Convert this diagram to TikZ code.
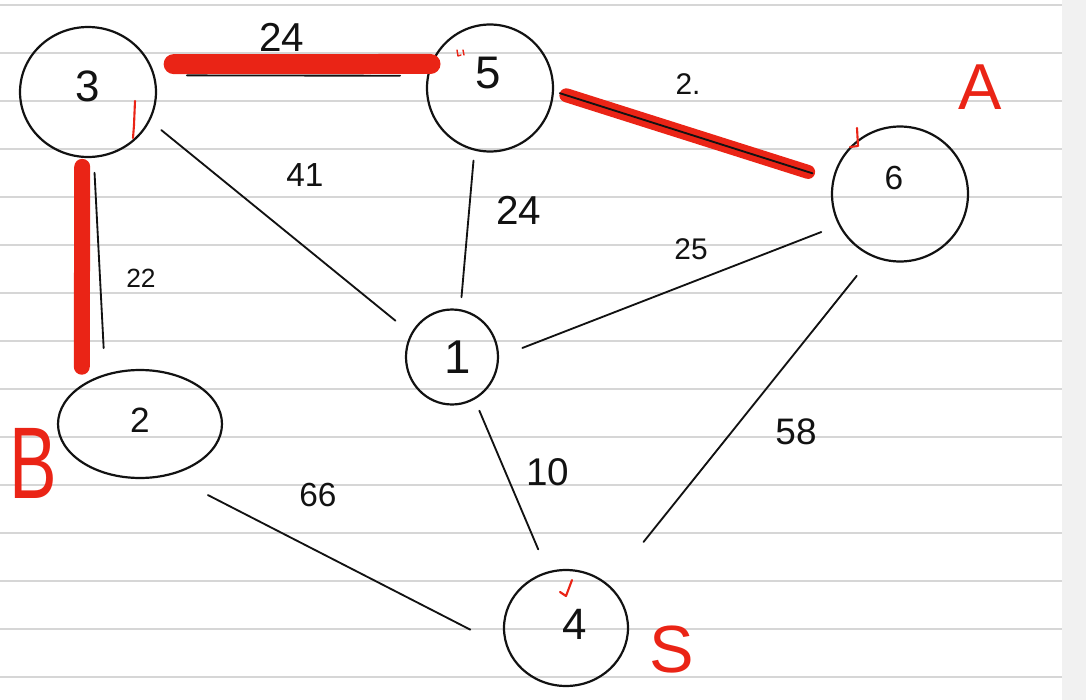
\documentclass[tikz,border=0pt]{standalone}
\usepackage{fontspec}
\setmainfont{Liberation Sans}
\usetikzlibrary{shapes.geometric,backgrounds}
\definecolor{padInk}{RGB}{18,18,18}
\definecolor{padRed}{RGB}{234,36,22}
\definecolor{padRule}{RGB}{214,214,214}
\definecolor{padEdge}{RGB}{241,241,241}
\newcommand{\padfont}[1]{\fontsize{#1}{#1}\selectfont}
\tikzset{
  vert/.style={ellipse, draw=padInk, line width=1.25pt, inner sep=0pt},
  digit/.style={text=padInk, inner sep=0pt},
  edge/.style={draw=padInk, line width=1.05pt, line cap=round},
  rule/.style={draw=padRule, line width=.8pt}
}
\begin{document}
\begin{tikzpicture}[x=.02cm, y=-.02cm,
  wt/.style={text=padInk, inner sep=.5pt},
  chosen/.style={draw=padRed, line cap=round},
  letter/.style={text=padRed, inner sep=0pt},
  tick/.style={draw=padRed, line width=1.2pt, line cap=round,
    line join=round}
]
\path[use as bounding box] (0,0) rectangle (1086,700);

\begin{scope}[on background layer]
  \fill[padEdge] (1062,0) rectangle (1086,700);
  \foreach \ry in {5,53,...,677}
    \draw[rule] (0,\ry) -- (1062,\ry);
\end{scope}

% vertices
\node[vert, minimum width=2.72cm, minimum height=2.6cm,
  label={[digit, font=\padfont{25}, yshift=.12cm]center:3}] (v3) at (88,92) {};
\node[vert, minimum width=2.52cm, minimum height=2.54cm,
  label={[digit, font=\padfont{26}, xshift=-.04cm, yshift=.3cm]center:5}] (v5) at (490,88) {};
\node[vert, minimum width=2.72cm, minimum height=2.7cm,
  label={[digit, font=\padfont{19}, xshift=-.12cm, yshift=.32cm]center:6}] (v6) at (900,194) {};
\node[vert, minimum width=1.84cm, minimum height=1.9cm,
  label={[digit, font=\padfont{27}, xshift=.12cm]center:1}] (v1) at (452,357) {};
\node[vert, minimum width=3.28cm, minimum height=2.16cm,
  label={[digit, font=\padfont{20}, yshift=.08cm]center:2}] (v2) at (140,424) {};
\node[vert, minimum width=2.48cm, minimum height=2.32cm,
  label={[digit, font=\padfont{25}, xshift=.18cm, yshift=.08cm]center:4}] (v4) at (566,628) {};

% chosen edges
\draw[chosen, line width=.4cm, shorten <=.46cm] (v3.24) -- (v5.158);
\draw[chosen, line width=.28cm, shorten <=.26cm, shorten >=.51cm] (v5.-3) -- (v6.168);
\draw[chosen, line width=.32cm, shorten <=.18cm, shorten >=.36cm] (v3.-95) -- (v2.146);

% plain edges
\draw[edge, shorten <=.64cm, shorten >=.54cm] (v3.14) -- (v5.169);
\draw[edge, shorten <=.12cm, shorten >=.42cm] (v5.-3) -- (v6.168);
\draw[edge, shorten <=.3cm, shorten >=.52cm] (v3.-85) -- (v2.125);
\draw[edge, shorten <=.29cm, shorten >=.4cm] (v3.-25) -- (v1.150);
\draw[edge, shorten <=.2cm, shorten >=.24cm] (v5.-104) -- (v1.80);
\draw[edge, shorten <=.5cm, shorten >=.37cm] (v1.0) -- (v6.207);
\draw[edge, shorten <=.24cm, shorten >=.48cm] (v1.-62) -- (v4.108);
\draw[edge, shorten <=.49cm, shorten >=1.1cm] (v6.246) -- (v4.45);
\draw[edge, shorten <=.86cm, shorten >=.82cm] (v2.-60) -- (v4.199);

% weights
\node[wt, font=\padfont{23}] (w35) at (282,37) {24};
\node[wt, font=\padfont{17}] (w56) at (688,84) {2.};
\node[wt, font=\padfont{15}] (w32) at (141,278) {22};
\node[wt, font=\padfont{19}] (w31) at (305,175) {41};
\node[wt, font=\padfont{23}] (w51) at (519,210) {24};
\node[wt, font=\padfont{17}] (w16) at (691,249) {25};
\node[wt, font=\padfont{21}] (w64) at (796,432) {58};
\node[wt, font=\padfont{22}] (w14) at (548,472) {10};
\node[wt, font=\padfont{19}] (w24) at (318,495) {66};

% red notes
\node[letter, font=\padfont{37}] (lA) at (980,87) {A};
\node[letter, font=\padfont{58}, xscale=.7, transform shape] (lB) at (33,463) {B};
\node[letter, font=\padfont{38}] (lS) at (672,650) {S};
\draw[tick] (135,101) -- (134,125) -- (133,138);
\draw[tick, line width=.8pt] (457,50) -- (458,56) -- (461,55) (463,50) -- (464,55);
\draw[tick] (857,128) -- (858,146) -- (850,147);
\draw[tick] (572,580) -- (566,596) -- (560,592);
\end{tikzpicture}
\end{document}
